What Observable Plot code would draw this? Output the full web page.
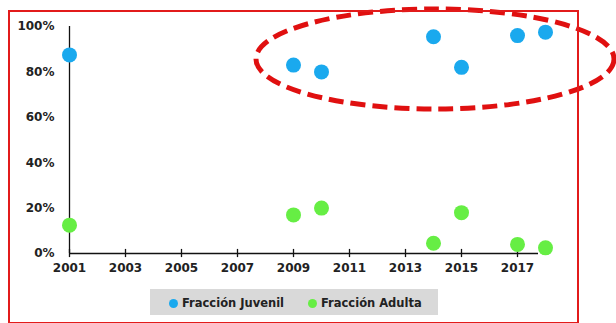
<!DOCTYPE html>
<html><head><meta charset="utf-8">
<script src="https://cdn.jsdelivr.net/npm/d3@7"></script>
<script src="https://cdn.jsdelivr.net/npm/@observablehq/plot@0.6"></script>
<style>
body{margin:0;background:#fff;font-family:"DejaVu Sans",sans-serif;}
#wrap{position:relative;width:616px;height:323px;overflow:hidden;}
#frame{position:absolute;left:8px;top:10px;width:567px;height:310px;border:2px solid #e21b1b;box-sizing:content-box;pointer-events:none;}
#legend{position:absolute;left:150px;top:289px;width:288px;height:26px;background:#d9d9d9;font:bold 11.5px "DejaVu Sans",sans-serif;color:#222;}
#legend span.i{position:absolute;top:7px;white-space:nowrap;}
#legend span.d{display:inline-block;width:9px;height:9px;border-radius:50%;margin-right:4px;vertical-align:-1px;}
#ell{position:absolute;left:0;top:0;}
</style></head>
<body><div id="wrap"></div>
<script>
const years = [2001, 2009, 2010, 2014, 2015, 2017, 2018];
const juvenil = [0.875, 0.83, 0.80, 0.955, 0.82, 0.96, 0.975];
const adulta = [0.125, 0.17, 0.20, 0.045, 0.18, 0.04, 0.025];
const seriesNames = ["Fracción Juvenil", "Fracción Adulta"];
const seriesColors = ["#1aa9ee", "#66ee44"];
const xTicks = [2001, 2003, 2005, 2007, 2009, 2011, 2013, 2015, 2017];
const yTicks = [0, 0.2, 0.4, 0.6, 0.8, 1.0];

const data = [];
years.forEach((y, i) => {
  data.push({year: y, value: juvenil[i], serie: seriesNames[0]});
  data.push({year: y, value: adulta[i], serie: seriesNames[1]});
});

const plot = Plot.plot({
  width: 616, height: 323,
  marginLeft: 69, marginRight: 78, marginTop: 26, marginBottom: 70,
  style: {fontFamily: "DejaVu Sans, sans-serif", fontSize: "12px", fontWeight: "bold", color: "#222", background: "transparent"},
  x: {domain: [2001, 2017.75]},
  y: {domain: [0, 1]},
  color: {domain: seriesNames, range: seriesColors},
  marks: [
    Plot.ruleX([2001], {y1: 0, y2: 1, stroke: "#111", strokeWidth: 1.3}),
    Plot.ruleY([0], {stroke: "#111", strokeWidth: 1.3}),
    Plot.ruleX(xTicks, {x: d => d, y1: -0.018, y2: 0.018, stroke: "#111", strokeWidth: 1.3}),
    Plot.axisY({ticks: yTicks, tickSize: 0, tickPadding: 15, tickFormat: d3.format(".0%"), label: null, fontWeight: "bold", fontSize: 12}),
    Plot.axisX({ticks: xTicks, tickSize: 0, tickPadding: 10, tickFormat: d => String(d), label: null, fontWeight: "bold", fontSize: 12}),
    Plot.dot(data, {x: "year", y: "value", fill: "serie", r: 7.5, clip: false})
  ]
});
const wrap = document.getElementById("wrap");
wrap.appendChild(plot);

const NS = "http://www.w3.org/2000/svg";
const ov = document.createElementNS(NS, "svg");
ov.setAttribute("id", "ell"); ov.setAttribute("width", 616); ov.setAttribute("height", 323);
const e = document.createElementNS(NS, "ellipse");
e.setAttribute("cx", 435); e.setAttribute("cy", 59); e.setAttribute("rx", 179); e.setAttribute("ry", 50);
e.setAttribute("fill", "none"); e.setAttribute("stroke", "#e01010"); e.setAttribute("stroke-width", 5);
e.setAttribute("stroke-dasharray", "15 7");
ov.appendChild(e);
wrap.appendChild(ov);

const fr = document.createElement("div"); fr.id = "frame"; wrap.appendChild(fr);
const lg = document.createElement("div"); lg.id = "legend";
const pos = [19, 158];
seriesNames.forEach((n, i) => {
  const s = document.createElement("span"); s.className = "i"; s.style.left = pos[i] + "px";
  const d = document.createElement("span"); d.className = "d"; d.style.background = seriesColors[i];
  s.appendChild(d); s.appendChild(document.createTextNode(n));
  lg.appendChild(s);
});
wrap.appendChild(lg);
</script></body></html>
